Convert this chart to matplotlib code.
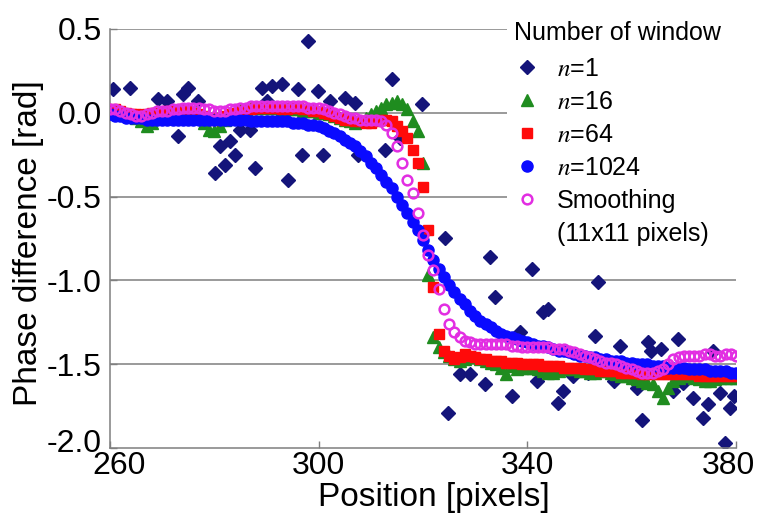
import matplotlib
matplotlib.use("Agg")
import matplotlib.pyplot as plt
from matplotlib.lines import Line2D
from matplotlib.transforms import ScaledTranslation

plt.rcParams['font.family'] = ['Liberation Sans', 'DejaVu Sans']
plt.rcParams['mathtext.fontset'] = 'stix'
plt.rcParams['axes.unicode_minus'] = False

# ---------------- data ----------------
x_start, x_end = 260, 380
positions = list(range(x_start, x_end + 1))

# n=1 (single window) scattered points
n1_x = [260.6, 263.8, 269.2, 270.9, 273.0, 274.0, 275.0, 276.9, 280.1, 281.1,
        282.0, 283.0, 283.9, 284.9, 286.8, 287.8, 289.1, 290.1, 291.0, 292.9,
        294.1, 296.0, 296.8, 298.0, 299.8, 300.8, 302.1, 305.0, 306.9, 307.5,
        312.7, 314.0, 315.6, 319.8, 324.2, 324.8, 327.0, 329.0, 331.8, 332.8,
        333.8, 337.0, 338.5, 340.8, 341.8, 343.0, 344.0, 345.8, 346.8, 348.7,
        351.6, 352.9, 353.5, 356.7, 357.7, 361.0, 361.9, 363.1, 363.8, 365.7,
        367.9, 368.8, 369.8, 371.7, 373.6, 374.6, 375.5, 376.9, 377.8, 378.8,
        379.7]
n1_y = [0.14, 0.15, 0.08, 0.07, -0.14, 0.11, 0.15, 0.07, -0.36, -0.20,
        -0.31, -0.17, -0.25, -0.10, -0.10, -0.33, 0.15, 0.07, 0.16, 0.17,
        -0.40, 0.14, -0.25, 0.43, 0.13, -0.25, 0.07, 0.09, 0.06, -0.25,
        -0.22, 0.20, -0.15, 0.05, -0.75, -1.79, -1.56, -1.56, -1.62, -0.86,
        -1.10, -1.69, -1.31, -0.93, -1.60, -1.19, -1.17, -1.73, -1.66, -1.57,
        -1.55, -1.33, -1.01, -1.60, -1.39, -1.64, -1.83, -1.37, -1.42, -1.41,
        -1.66, -1.35, -1.61, -1.70, -1.82, -1.74, -1.42, -1.67, -1.97, -1.76,
        -1.69]

# n=16
n16_y = [0.00, 0.01, 0.00, -0.01, -0.02, -0.03, -0.05, -0.08, -0.06, -0.03,
         -0.01, 0.00, 0.01, 0.01, 0.02, 0.01, 0.00, -0.02, -0.06, -0.10,
         -0.11, -0.08, -0.04, -0.01, 0.01, 0.02, 0.02, 0.03, 0.03, 0.03,
         0.03, 0.03, 0.03, 0.02, 0.02, 0.02, 0.02, 0.01, 0.01, 0.01,
         0.00, 0.00, -0.01, -0.02, -0.03, -0.04, -0.05, -0.06, -0.05, -0.03,
         -0.01, 0.01, 0.03, 0.05, 0.06, 0.07, 0.05, 0.02, -0.05, -0.11,
         -0.30, -0.97, -1.34, -1.40, -1.43, -1.45, -1.47, -1.48, -1.47, -1.46,
         -1.46, -1.47, -1.48, -1.49, -1.50, -1.52, -1.56, -1.51, -1.53, -1.52,
         -1.52, -1.52, -1.53, -1.54, -1.55, -1.55, -1.54, -1.53, -1.53, -1.53,
         -1.54, -1.54, -1.55, -1.55, -1.54, -1.54, -1.55, -1.56, -1.57, -1.57,
         -1.58, -1.59, -1.60, -1.61, -1.62, -1.66, -1.70, -1.64, -1.60, -1.58,
         -1.57, -1.57, -1.58, -1.59, -1.60, -1.60, -1.59, -1.58, -1.58, -1.58,
         -1.58]

# n=64
n64_y = [0.01, 0.02, 0.01, 0.00, -0.01, -0.01, -0.02, -0.01, 0.00, 0.00,
         0.00, 0.01, 0.01, 0.01, 0.02, 0.01, 0.00, -0.01, -0.02, -0.03,
         -0.04, -0.03, -0.02, -0.01, 0.00, 0.01, 0.02, 0.02, 0.03, 0.03,
         0.03, 0.03, 0.03, 0.02, 0.02, 0.03, 0.03, 0.02, 0.02, 0.01,
         0.01, 0.00, -0.01, -0.02, -0.03, -0.04, -0.04, -0.05, -0.05, -0.06,
         -0.06, -0.05, -0.04, -0.04, -0.05, -0.08, -0.11, -0.15, -0.22, -0.30,
         -0.44, -0.70, -1.04, -1.32, -1.42, -1.45, -1.47, -1.46, -1.44, -1.45,
         -1.46, -1.47, -1.47, -1.48, -1.48, -1.48, -1.49, -1.49, -1.49, -1.50,
         -1.50, -1.50, -1.50, -1.51, -1.51, -1.51, -1.51, -1.52, -1.52, -1.52,
         -1.52, -1.53, -1.53, -1.53, -1.54, -1.54, -1.54, -1.54, -1.55, -1.55,
         -1.55, -1.55, -1.56, -1.56, -1.56, -1.56, -1.56, -1.56, -1.56, -1.56,
         -1.56, -1.56, -1.56, -1.57, -1.57, -1.57, -1.57, -1.57, -1.57, -1.57,
         -1.57]

# n=1024
n1024_y = [-0.01, -0.02, -0.02, -0.03, -0.03, -0.03, -0.03, -0.04, -0.04, -0.04,
           -0.04, -0.04, -0.04, -0.04, -0.04, -0.04, -0.04, -0.04, -0.04, -0.04,
           -0.04, -0.04, -0.04, -0.04, -0.04, -0.04, -0.04, -0.05, -0.05, -0.05,
           -0.05, -0.05, -0.05, -0.05, -0.05, -0.06, -0.06, -0.06, -0.07, -0.07,
           -0.08, -0.09, -0.11, -0.12, -0.14, -0.16, -0.18, -0.20, -0.23, -0.26,
           -0.30, -0.33, -0.37, -0.41, -0.45, -0.50, -0.55, -0.60, -0.65, -0.70,
           -0.76, -0.82, -0.88, -0.93, -0.98, -1.03, -1.07, -1.11, -1.14, -1.18,
           -1.21, -1.24, -1.26, -1.28, -1.30, -1.32, -1.33, -1.34, -1.35, -1.36,
           -1.37, -1.38, -1.39, -1.39, -1.40, -1.41, -1.42, -1.42, -1.43, -1.44,
           -1.45, -1.45, -1.46, -1.46, -1.47, -1.47, -1.48, -1.48, -1.48, -1.49,
           -1.49, -1.50, -1.50, -1.50, -1.51, -1.51, -1.51, -1.52, -1.52, -1.52,
           -1.52, -1.53, -1.53, -1.53, -1.53, -1.54, -1.54, -1.54, -1.54, -1.55,
           -1.55]

# Smoothing (11x11 pixels)
smooth_y = [0.02, 0.02, 0.01, 0.00, -0.01, -0.02, -0.02, -0.01, 0.00, 0.01,
            0.01, 0.01, 0.02, 0.02, 0.03, 0.03, 0.03, 0.03, 0.02, 0.02,
            0.01, 0.01, 0.01, 0.02, 0.02, 0.03, 0.03, 0.04, 0.04, 0.04,
            0.04, 0.04, 0.04, 0.04, 0.04, 0.04, 0.04, 0.04, 0.03, 0.03,
            0.03, 0.02, 0.01, 0.00, -0.01, -0.02, -0.03, -0.03, -0.04, -0.04,
            -0.04, -0.04, -0.05, -0.07, -0.12, -0.20, -0.30, -0.40, -0.48, -0.60,
            -0.73, -0.85, -0.94, -1.05, -1.17, -1.26, -1.31, -1.34, -1.36, -1.37,
            -1.38, -1.38, -1.38, -1.38, -1.38, -1.38, -1.38, -1.39, -1.39, -1.40,
            -1.40, -1.40, -1.40, -1.40, -1.40, -1.41, -1.41, -1.41, -1.42, -1.43,
            -1.44, -1.45, -1.46, -1.47, -1.48, -1.49, -1.49, -1.50, -1.51, -1.52,
            -1.53, -1.54, -1.55, -1.55, -1.55, -1.54, -1.53, -1.50, -1.47, -1.46,
            -1.45, -1.45, -1.45, -1.45, -1.44, -1.44, -1.45, -1.45, -1.44, -1.44,
            -1.45]

x_ticks = [260, 300, 340, 380]
y_ticks = [-2.0, -1.5, -1.0, -0.5, 0.0, 0.5]
legend_title = "Number of window"
series_labels = [r"$n$=1", r"$n$=16", r"$n$=64", r"$n$=1024", "Smoothing", "(11x11 pixels)"]

# ---------------- figure ----------------
W, H = 761, 521
fig = plt.figure(figsize=(W / 100, H / 100), dpi=100)
ax = fig.add_axes([110 / W, 1 - 448 / H, 626 / W, 419 / H])

grid_c = '#7f7f7f'
for yv in y_ticks[1:]:
    ax.axhline(yv, color=grid_c, lw=1.1, zorder=0.5)

ax.plot(n1_x, n1_y, linestyle='none', marker='D', ms=6.8, color='#14147a', zorder=2)
ax.plot(positions, n16_y, linestyle='none', marker='^', ms=8.5, color='#1f8c1f', zorder=3)
ax.plot(positions, n64_y, linestyle='none', marker='s', ms=7.2, color='#ff0a0a', zorder=4)
ax.plot(positions, n1024_y, linestyle='none', marker='o', ms=8.0, color='#0a0aff', zorder=5)
ax.plot(positions, smooth_y, linestyle='none', marker='o', ms=7.0, mfc='none',
        mec='#e22ee2', mew=1.8, zorder=6)

ax.set_xlim(x_start, x_end)
ax.set_ylim(-2.0, 0.5)
ax.set_xticks(x_ticks)
ax.set_yticks(y_ticks)
ax.set_yticklabels([f"{v:.1f}" for v in y_ticks])
ax.tick_params(direction='in', length=5, width=1.0, color=grid_c, labelsize=23)
ax.tick_params(axis='x', pad=2)
ax.tick_params(axis='y', pad=6)
for s in ['top', 'right']:
    ax.spines[s].set_visible(False)
for s in ['left', 'bottom']:
    ax.spines[s].set_color(grid_c)
    ax.spines[s].set_linewidth(1.1)

# nudge end labels like the original (kept inside the plot frame)
def nudge(label, dx_px, dy_px):
    label.set_transform(label.get_transform() +
                        ScaledTranslation(dx_px / 100, dy_px / 100, fig.dpi_scale_trans))

xt = ax.xaxis.get_major_ticks()
nudge(xt[0].label1, 9, 0)
nudge(xt[-1].label1, -8, 0)
yt = ax.yaxis.get_major_ticks()
nudge(yt[0].label1, 0, 8)

ax.set_xlabel("Position [pixels]", fontsize=24)
ax.xaxis.set_label_coords(0.518, -0.08)
ax.xaxis.label.set_va('top')
ax.set_ylabel("Phase difference [rad]", fontsize=24)
ax.yaxis.set_label_coords(-0.106, 0.49)

handles = [
    Line2D([], [], linestyle='none', marker='D', ms=6.8, color='#14147a'),
    Line2D([], [], linestyle='none', marker='^', ms=8.5, color='#1f8c1f'),
    Line2D([], [], linestyle='none', marker='s', ms=7.2, color='#ff0a0a'),
    Line2D([], [], linestyle='none', marker='o', ms=8.0, color='#0a0aff'),
    Line2D([], [], linestyle='none', marker='o', ms=7.0, mfc='none', mec='#e22ee2', mew=1.8),
    Line2D([], [], linestyle='none', marker=None),
]
leg = ax.legend(handles, series_labels, title=legend_title, alignment='left',
                loc='upper left', bbox_to_anchor=(507 / W, 1 - 14 / H, (W - 507) / W, 0),
                bbox_transform=fig.transFigure, borderaxespad=0, mode='expand',
                fontsize=18, title_fontsize=18, frameon=True,
                fancybox=False, edgecolor='none', facecolor='white',
                framealpha=1.0, handlelength=1.0, handletextpad=0.7,
                labelspacing=0.36, borderpad=0.3)
leg._legend_box.sep = 8
leg.set_zorder(10)

fig.savefig("out.png", dpi=100)
